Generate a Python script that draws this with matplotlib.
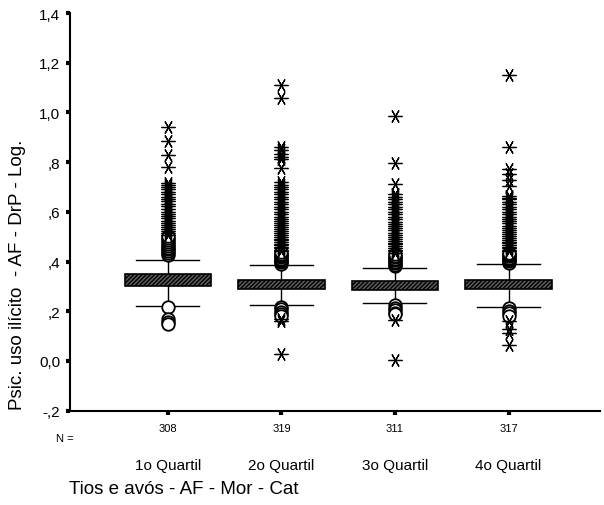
import matplotlib
matplotlib.use("Agg")
import matplotlib.pyplot as plt
from matplotlib.transforms import blended_transform_factory

plt.rcParams['font.family'] = ['Liberation Sans', 'DejaVu Sans']
plt.rcParams['hatch.linewidth'] = 1.0

categories = ["1o Quartil", "2o Quartil", "3o Quartil", "4o Quartil"]
counts = ["308", "319", "311", "317"]

q1 = [0.300, 0.289, 0.287, 0.289]
q3 = [0.350, 0.326, 0.323, 0.326]
med = [0.312, 0.303, 0.302, 0.303]
whis_lo = [0.222, 0.225, 0.232, 0.218]
whis_hi = [0.406, 0.387, 0.374, 0.390]

circ_hi = [
    [0.428, 0.435, 0.442, 0.449, 0.456, 0.463, 0.470, 0.478, 0.486, 0.494, 0.501],
    [0.392, 0.397, 0.402, 0.407, 0.412, 0.417, 0.422, 0.427, 0.432, 0.437],
    [0.382, 0.388, 0.394, 0.400, 0.406, 0.412, 0.418, 0.424, 0.430],
    [0.396, 0.401, 0.406, 0.411, 0.416, 0.421, 0.426, 0.431, 0.436],
]
star_hi = [
    [0.507, 0.515, 0.523, 0.531, 0.540, 0.548, 0.556, 0.565, 0.574, 0.583, 0.592,
     0.600, 0.612, 0.624, 0.633, 0.642, 0.651, 0.660, 0.670, 0.680, 0.690, 0.700,
     0.708, 0.715, 0.781, 0.830, 0.884, 0.940],
    [0.442, 0.448, 0.454, 0.460, 0.466, 0.472, 0.478, 0.485, 0.492, 0.500, 0.508,
     0.516, 0.524, 0.532, 0.540, 0.548, 0.556, 0.564, 0.572, 0.580, 0.590, 0.600,
     0.610, 0.620, 0.630, 0.640, 0.650, 0.660, 0.670, 0.680, 0.690, 0.700, 0.710,
     0.719, 0.775, 0.812, 0.822, 0.833, 0.848, 0.860, 1.057, 1.110],
    [0.436, 0.442, 0.448, 0.455, 0.462, 0.469, 0.476, 0.484, 0.492, 0.500, 0.508,
     0.516, 0.525, 0.534, 0.543, 0.552, 0.561, 0.570, 0.580, 0.590, 0.600, 0.610,
     0.620, 0.630, 0.640, 0.650, 0.660, 0.672, 0.712, 0.796, 0.984],
    [0.441, 0.447, 0.453, 0.459, 0.466, 0.473, 0.480, 0.488, 0.496, 0.504, 0.512,
     0.520, 0.528, 0.536, 0.545, 0.554, 0.563, 0.572, 0.581, 0.590, 0.600, 0.610,
     0.620, 0.630, 0.640, 0.650, 0.657, 0.665, 0.705, 0.730, 0.752, 0.772, 0.860,
     1.152],
]
circ_lo = [
    [0.217, 0.168, 0.158, 0.148],
    [0.218, 0.208, 0.198, 0.190, 0.182],
    [0.225, 0.215, 0.205, 0.195, 0.188],
    [0.212, 0.202, 0.192, 0.183],
]
star_lo = [
    [],
    [0.168, 0.160, 0.030],
    [0.165, 0.004],
    [0.160, 0.128, 0.112, 0.064],
]

yticks = [-0.2, 0.0, 0.2, 0.4, 0.6, 0.8, 1.0, 1.2, 1.4]
ytick_labels = ["-,2", "0,0", ",2", ",4", ",6", ",8", "1,0", "1,2", "1,4"]

fig = plt.figure(figsize=(6.04, 5.06), dpi=100)
ax = fig.add_axes([70/604, 1-411.7/506, 530/604, (411.7-14)/506])

positions = [1, 2, 3, 4]
stats = []
for i in range(4):
    stats.append(dict(med=med[i], q1=q1[i], q3=q3[i], whislo=whis_lo[i],
                      whishi=whis_hi[i], fliers=[]))

bp = ax.bxp(stats, positions=positions, widths=0.76, capwidths=0.555,
            patch_artist=True, showfliers=False,
            boxprops=dict(facecolor='#5c5c5c', edgecolor='black', linewidth=1.2,
                          hatch='////////'),
            medianprops=dict(color='black', linewidth=1.5),
            whiskerprops=dict(color='black', linewidth=1.0),
            capprops=dict(color='black', linewidth=1.0))
for b in bp['boxes']:
    b.set_zorder(3)

star_marker = (6, 2, 30)
for i, p in enumerate(positions):
    cvals = circ_hi[i] + circ_lo[i]
    ax.plot([p]*len(cvals), cvals, linestyle='none', marker='o', markersize=9,
            markerfacecolor='white', markeredgecolor='black', markeredgewidth=1.3,
            zorder=4)
    svals = star_hi[i] + star_lo[i]
    ax.plot([p]*len(svals), svals, linestyle='none', marker=star_marker,
            markersize=10, markeredgecolor='black', markeredgewidth=0.9,
            color='black', zorder=4)

ax.set_xlim(0.137, 4.806)
ax.set_ylim(-0.2, 1.4)
ax.set_yticks(yticks)
ax.set_yticklabels(ytick_labels, fontsize=11)
ax.set_xticks(positions)
ax.set_xticklabels(counts, fontsize=8)
ax.tick_params(axis='both', direction='out', length=3, width=3, color='black')
ax.tick_params(axis='x', pad=6)
ax.tick_params(axis='y', pad=4)
for s in ['top', 'right']:
    ax.spines[s].set_visible(False)
for s in ['left', 'bottom']:
    ax.spines[s].set_linewidth(1.5)

trans = blended_transform_factory(ax.transData, fig.transFigure)
for p, c in zip(positions, categories):
    ax.text(p, 1-466/506, c, transform=trans, ha='center', va='center', fontsize=11)

fig.text(65/604, 1-439/506, "N =", ha='center', va='center', fontsize=8)
fig.text(69/604, 1-490/506, "Tios e avós - AF - Mor - Cat", ha='left', va='center',
         fontsize=13.5)
fig.text(18/604, 1-410/506, "Psic. uso ilícito  - AF - DrP - Log.", rotation=90,
         ha='center', va='bottom', fontsize=13.5)

fig.savefig("out.png", dpi=100)
